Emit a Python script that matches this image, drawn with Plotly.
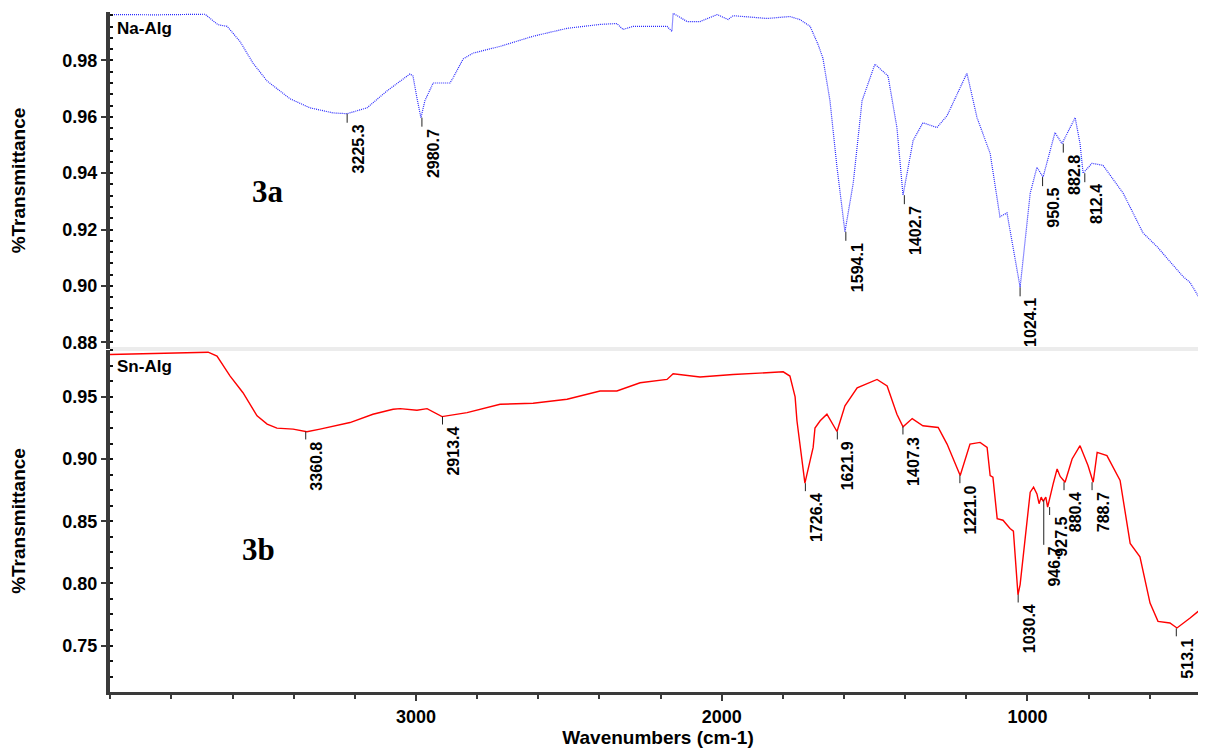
import plotly.graph_objects as go
from plotly.subplots import make_subplots

# ---------------- data ----------------
# Na-Alg (3a) spectrum
na_wn = [4001, 3850, 3690, 3648, 3618, 3576, 3533, 3487, 3412, 3347, 3272, 3226, 3160, 3095,
         3020, 3010, 2997, 2984, 2971, 2944, 2889, 2879, 2846, 2814, 2725, 2617, 2506, 2398,
         2343, 2323, 2290, 2179, 2163, 2159, 2113, 2071, 2015, 1979, 1963, 1852, 1777, 1744,
         1711, 1685, 1669, 1646, 1623, 1597, 1570, 1541, 1499, 1456, 1427, 1407, 1374, 1342,
         1296, 1263, 1198, 1165, 1122, 1090, 1067, 1024, 991, 969, 949, 910, 887, 844, 828,
         818, 789, 753, 687, 622, 576, 491, 468, 429, 416]
na_T = [0.9963, 0.9962, 0.9964, 0.9927, 0.9921, 0.9868, 0.9790, 0.9727, 0.9664, 0.9632, 0.9614,
        0.9611, 0.9632, 0.9692, 0.9752, 0.9745, 0.9667, 0.9597, 0.9657, 0.9720, 0.9720, 0.9738,
        0.9805, 0.9826, 0.9850, 0.9886, 0.9914, 0.9928, 0.9931, 0.9910, 0.9921, 0.9921, 0.9903,
        0.9967, 0.9938, 0.9938, 0.9963, 0.9945, 0.9959, 0.9949, 0.9956, 0.9945, 0.9921, 0.9857,
        0.9808, 0.9657, 0.9421, 0.9192, 0.9364, 0.9657, 0.9787, 0.9745, 0.9562, 0.9322, 0.9516,
        0.9579, 0.9562, 0.9604, 0.9755, 0.9597, 0.9470, 0.9245, 0.9259, 0.8995, 0.9329, 0.9421,
        0.9386, 0.9544, 0.9505, 0.9597, 0.9505, 0.9400, 0.9435, 0.9428, 0.9329, 0.9188, 0.9139,
        0.9033, 0.9012, 0.8941, 0.8959]

# Sn-Alg (3b) spectrum
sn_wn = [4001, 3913, 3795, 3680, 3651, 3608, 3566, 3520, 3487, 3455, 3402, 3357, 3314, 3216,
         3141, 3075, 3052, 2997, 2964, 2915, 2833, 2725, 2617, 2506, 2398, 2343, 2267, 2179,
         2159, 2071, 1963, 1799, 1777, 1760, 1754, 1728, 1701, 1695, 1678, 1656, 1623, 1597,
         1557, 1492, 1459, 1427, 1407, 1377, 1342, 1292, 1263, 1220, 1188, 1155, 1132, 1122,
         1113, 1099, 1080, 1057, 1046, 1031, 1024, 1014, 1003, 991, 980, 969, 962, 955, 949,
         940, 934, 926, 915, 903, 893, 877, 854, 828, 802, 785, 772, 740, 697, 664, 632, 599,
         573, 534, 511, 468, 435, 416]
sn_T = [0.9841, 0.9846, 0.9854, 0.9860, 0.9828, 0.9668, 0.9534, 0.9348, 0.9281, 0.9249, 0.9241,
        0.9220, 0.9241, 0.9294, 0.9361, 0.9401, 0.9406, 0.9393, 0.9406, 0.9342, 0.9374, 0.9441,
        0.9449, 0.9481, 0.9548, 0.9548, 0.9614, 0.9641, 0.9686, 0.9660, 0.9681, 0.9702, 0.9668,
        0.9500, 0.9308, 0.8806, 0.9094, 0.9250, 0.9308, 0.9361, 0.9222, 0.9428, 0.9574, 0.9641,
        0.9588, 0.9361, 0.9260, 0.9326, 0.9268, 0.9254, 0.9121, 0.8868, 0.9121, 0.9134, 0.9094,
        0.8868, 0.8854, 0.8521, 0.8508, 0.8441, 0.8420, 0.7908, 0.7990, 0.8214, 0.8468, 0.8734,
        0.8774, 0.8720, 0.8641, 0.8694, 0.8660, 0.8694, 0.8614, 0.8700, 0.8810, 0.8921, 0.8860,
        0.8814, 0.9001, 0.9108, 0.8948, 0.8814, 0.9054, 0.9028, 0.8828, 0.8321, 0.8214, 0.7841,
        0.7694, 0.7681, 0.7641, 0.7721, 0.7788, 0.7761]

# labelled peaks
na_peak_wn = [3225.3, 2980.7, 1594.1, 1402.7, 1024.1, 950.5, 882.8, 812.4]
na_peak_T = [0.9611, 0.9597, 0.9192, 0.9322, 0.8995, 0.9386, 0.9505, 0.9400]
sn_peak_wn = [3360.8, 2913.4, 1726.4, 1621.9, 1407.3, 1221.0, 1030.4, 946.7, 927.5, 880.4, 788.7, 513.1]
sn_peak_T = [0.9222, 0.9342, 0.8806, 0.9222, 0.9262, 0.8870, 0.7910, 0.8670, 0.8614, 0.8814, 0.8814, 0.7638]

x_ticks = [3000, 2000, 1000]
top_ticks = [0.88, 0.90, 0.92, 0.94, 0.96, 0.98]
bot_ticks = [0.75, 0.80, 0.85, 0.90, 0.95]

# ---------------- figure ----------------
fig = make_subplots(rows=2, cols=1, shared_xaxes=True, vertical_spacing=0)

fig.add_trace(go.Scatter(x=na_wn, y=na_T, mode="lines", name="Na-Alg",
                         line=dict(color="rgb(40,40,255)", width=1.2, dash="1px,1px")),
              row=1, col=1)
fig.add_trace(go.Scatter(x=sn_wn, y=sn_T, mode="lines", name="Sn-Alg",
                         line=dict(color="#ff0000", width=1.4)),
              row=2, col=1)

lab_font = dict(family="Liberation Sans, Arial", size=16, color="black")
shapes = []
annotations = []


def add_peaks(wns, Ts, xref, yref, tick_len, long_ticks):
    for w, t in zip(wns, Ts):
        L = long_ticks.get(w, tick_len)
        shapes.append(dict(type="line", xref=xref, yref=yref, x0=w, x1=w, y0=t, y1=t - L,
                           line=dict(color="#222222", width=1)))
        annotations.append(dict(x=w, y=t - L, xref=xref, yref=yref, text="<b>%.1f</b>" % w,
                                textangle=-90, showarrow=False, xanchor="center",
                                yanchor="top", xshift=11, yshift=0, font=lab_font))


add_peaks(na_peak_wn, na_peak_T, "x", "y", 0.0032, {})
add_peaks(sn_peak_wn, sn_peak_T, "x2", "y2", 0.0064, {946.7: 0.036})

name_font = dict(family="Liberation Sans, Arial", size=17, color="black")
tag_font = dict(family="Liberation Serif, Times New Roman", size=31, color="black")
annotations += [
    dict(x=0.005, y=1.0, xref="paper", yref="paper", yshift=-5, text="<b>Na-Alg</b>",
         showarrow=False, xanchor="left", yanchor="top", font=name_font),
    dict(x=0.005, y=0.503, xref="paper", yref="paper", yshift=-5, text="<b>Sn-Alg</b>",
         showarrow=False, xanchor="left", yanchor="top", font=name_font),
    dict(x=3484, y=0.9336, xref="x", yref="y", text="<b>3a</b>", showarrow=False, font=tag_font),
    dict(x=3514, y=0.827, xref="x2", yref="y2", text="<b>3b</b>", showarrow=False, font=tag_font),
]

# divider band between the panels
shapes.append(dict(type="rect", xref="paper", yref="paper", x0=0, x1=1, y0=0.5015, y1=0.5073,
                   fillcolor="#ececec", line=dict(width=0), layer="below"))

tick_font = dict(family="Liberation Sans, Arial", size=18, color="black")
title_font = dict(family="Liberation Sans, Arial", size=19, color="black")

# page body has an 8px margin: figure is sized so the page fits the 1206x756 window
fig.update_layout(
    width=1198, height=740,
    margin=dict(l=102, r=0, t=4, b=52),
    paper_bgcolor="white", plot_bgcolor="white",
    showlegend=False,
    shapes=shapes, annotations=annotations,
)

fig.update_xaxes(range=[4001, 416], showgrid=False, zeroline=False)
fig.update_xaxes(row=1, col=1, showline=False, ticks="", showticklabels=False)
fig.update_xaxes(row=2, col=1, showline=True, linewidth=3, linecolor="#3a3a3a",
                 ticks="outside", ticklen=6, tickwidth=1.5, tickcolor="#3a3a3a",
                 tickvals=x_ticks, ticktext=["<b>%d</b>" % v for v in x_ticks],
                 tickfont=tick_font,
                 minor=dict(dtick=200, ticks="outside", ticklen=4, tickcolor="#3a3a3a"),
                 title=dict(text="<b>Wavenumbers (cm-1)</b>", font=title_font, standoff=8))

common_y = dict(showgrid=False, zeroline=False, showline=True, linewidth=4, linecolor="#3a3a3a",
                ticks="outside", ticklen=5, tickwidth=1.5, tickcolor="#3a3a3a", tickfont=tick_font)
fig.update_yaxes(row=1, col=1, domain=[0.5044, 1.0], range=[0.8776, 0.9972],
                 tickvals=top_ticks, ticktext=["<b>%.2f</b>" % v for v in top_ticks],
                 minor=dict(dtick=0.004, tick0=0.88, ticks="inside", ticklen=3, tickcolor="#111111"),
                 title=dict(text="<b>%Transmittance</b>", font=title_font, standoff=36), **common_y)
fig.update_yaxes(row=2, col=1, domain=[0.0, 0.503], range=[0.7126, 0.9878],
                 tickvals=bot_ticks, ticktext=["<b>%.2f</b>" % v for v in bot_ticks],
                 minor=dict(dtick=0.0125, tick0=0.75, ticks="inside", ticklen=3, tickcolor="#111111"),
                 title=dict(text="<b>%Transmittance</b>", font=title_font, standoff=36), **common_y)

fig.write_html("out.html")
